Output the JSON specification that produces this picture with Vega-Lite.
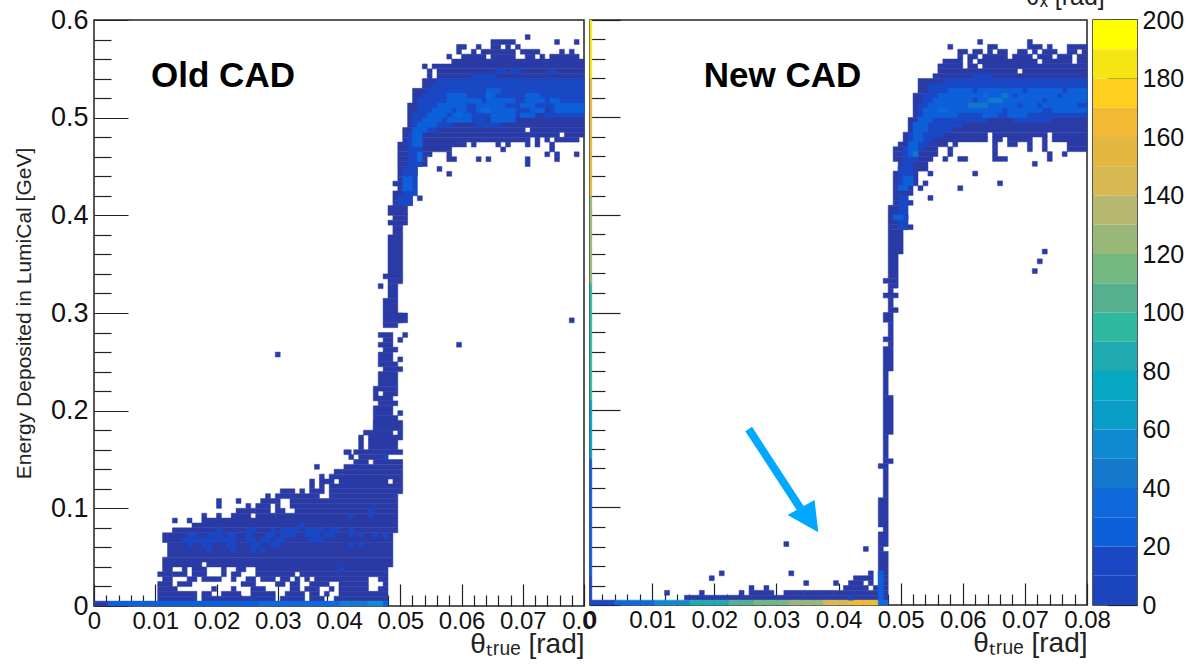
{"$schema":"https://vega.github.io/schema/vega-lite/v6.json","background":"white","padding":{"left":12,"top":-16,"right":0,"bottom":0},"spacing":6,"bounds":"flush",
"config":{"font":"Liberation Sans","view":{"stroke":"#222222","strokeWidth":1.5},"axis":{"grid":false,"domain":false,"tickColor":"#222222","tickWidth":1.2,"labelColor":"#111111","titleColor":"#222222","titleFontWeight":"normal","labelFont":"Liberation Sans","titleFont":"Liberation Sans"}},
"datasets":{
"bands":[{"x":0,"X":1,"y":0,"Y":10,"v":5},{"x":0,"X":1,"y":10,"Y":20,"v":15},{"x":0,"X":1,"y":20,"Y":30,"v":25},{"x":0,"X":1,"y":30,"Y":40,"v":35},{"x":0,"X":1,"y":40,"Y":50,"v":45},{"x":0,"X":1,"y":50,"Y":60,"v":55},{"x":0,"X":1,"y":60,"Y":70,"v":65},{"x":0,"X":1,"y":70,"Y":80,"v":75},{"x":0,"X":1,"y":80,"Y":90,"v":85},{"x":0,"X":1,"y":90,"Y":100,"v":95},{"x":0,"X":1,"y":100,"Y":110,"v":105},{"x":0,"X":1,"y":110,"Y":120,"v":115},{"x":0,"X":1,"y":120,"Y":130,"v":125},{"x":0,"X":1,"y":130,"Y":140,"v":135},{"x":0,"X":1,"y":140,"Y":150,"v":145},{"x":0,"X":1,"y":150,"Y":160,"v":155},{"x":0,"X":1,"y":160,"Y":170,"v":165},{"x":0,"X":1,"y":170,"Y":180,"v":175},{"x":0,"X":1,"y":180,"Y":190,"v":185},{"x":0,"X":1,"y":190,"Y":200,"v":195}],
"old":[
{"x":0.0704,"X":0.0712,"y":0.58,"Y":0.585,"v":2},{"x":0.0648,"X":0.0688,"y":0.575,"Y":0.58,"v":2},{"x":0.0752,"X":0.076,"y":0.575,"Y":0.58,"v":2},{"x":0.0784,"X":0.0792,"y":0.575,"Y":0.58,"v":2},
{"x":0.0592,"X":0.0608,"y":0.57,"Y":0.575,"v":2},{"x":0.0624,"X":0.0632,"y":0.57,"Y":0.575,"v":2},{"x":0.0648,"X":0.0664,"y":0.57,"Y":0.575,"v":2},{"x":0.0672,"X":0.068,"y":0.57,"Y":0.575,"v":2},{"x":0.0688,"X":0.0696,"y":0.57,"Y":0.575,"v":2},
{"x":0.0592,"X":0.06,"y":0.565,"Y":0.57,"v":2},{"x":0.0616,"X":0.0624,"y":0.565,"Y":0.57,"v":2},{"x":0.0632,"X":0.0688,"y":0.565,"Y":0.57,"v":2},{"x":0.0696,"X":0.0728,"y":0.565,"Y":0.57,"v":2},{"x":0.076,"X":0.0768,"y":0.565,"Y":0.57,"v":2},{"x":0.0776,"X":0.0784,"y":0.565,"Y":0.57,"v":2},
{"x":0.0576,"X":0.0584,"y":0.56,"Y":0.565,"v":2},{"x":0.06,"X":0.064,"y":0.56,"Y":0.565,"v":2},{"x":0.0648,"X":0.0688,"y":0.56,"Y":0.565,"v":2},{"x":0.0704,"X":0.072,"y":0.56,"Y":0.565,"v":2},{"x":0.0728,"X":0.0736,"y":0.56,"Y":0.565,"v":2},{"x":0.0744,"X":0.0792,"y":0.56,"Y":0.565,"v":2},
{"x":0.0584,"X":0.08,"y":0.555,"Y":0.56,"v":2},{"x":0.0536,"X":0.0544,"y":0.55,"Y":0.555,"v":2},{"x":0.0552,"X":0.08,"y":0.55,"Y":0.555,"v":2},{"x":0.0544,"X":0.0552,"y":0.545,"Y":0.55,"v":2},{"x":0.056,"X":0.08,"y":0.545,"Y":0.55,"v":2},{"x":0.0544,"X":0.0552,"y":0.54,"Y":0.545,"v":2},{"x":0.056,"X":0.08,"y":0.54,"Y":0.545,"v":2},
{"x":0.0536,"X":0.08,"y":0.53,"Y":0.54,"v":2},{"x":0.052,"X":0.08,"y":0.515,"Y":0.53,"v":2},{"x":0.0512,"X":0.08,"y":0.49,"Y":0.515,"v":2},
{"x":0.0504,"X":0.0704,"y":0.485,"Y":0.49,"v":2},{"x":0.0712,"X":0.08,"y":0.485,"Y":0.49,"v":2},{"x":0.0504,"X":0.076,"y":0.48,"Y":0.485,"v":2},{"x":0.0768,"X":0.08,"y":0.48,"Y":0.485,"v":2},
{"x":0.0504,"X":0.0704,"y":0.475,"Y":0.48,"v":2},{"x":0.0704,"X":0.0712,"y":0.475,"Y":0.48,"v":2},{"x":0.072,"X":0.0728,"y":0.475,"Y":0.48,"v":2},{"x":0.0736,"X":0.0744,"y":0.475,"Y":0.48,"v":2},{"x":0.0752,"X":0.0792,"y":0.475,"Y":0.48,"v":2},
{"x":0.0496,"X":0.06,"y":0.47,"Y":0.475,"v":2},{"x":0.06,"X":0.0608,"y":0.47,"Y":0.475,"v":2},{"x":0.0616,"X":0.0624,"y":0.47,"Y":0.475,"v":2},{"x":0.0656,"X":0.0664,"y":0.47,"Y":0.475,"v":2},{"x":0.0672,"X":0.068,"y":0.47,"Y":0.475,"v":2},{"x":0.0704,"X":0.0712,"y":0.47,"Y":0.475,"v":2},{"x":0.072,"X":0.0728,"y":0.47,"Y":0.475,"v":2},{"x":0.0744,"X":0.0752,"y":0.47,"Y":0.475,"v":2},
{"x":0.0496,"X":0.0584,"y":0.465,"Y":0.47,"v":2},{"x":0.0664,"X":0.0672,"y":0.465,"Y":0.47,"v":2},{"x":0.0744,"X":0.0752,"y":0.465,"Y":0.47,"v":2},
{"x":0.0496,"X":0.0552,"y":0.46,"Y":0.465,"v":2},{"x":0.0576,"X":0.0584,"y":0.46,"Y":0.465,"v":2},{"x":0.0736,"X":0.0744,"y":0.46,"Y":0.465,"v":2},{"x":0.0752,"X":0.076,"y":0.46,"Y":0.465,"v":2},{"x":0.0784,"X":0.0792,"y":0.46,"Y":0.465,"v":2},
{"x":0.0496,"X":0.0544,"y":0.455,"Y":0.46,"v":2},{"x":0.0576,"X":0.0592,"y":0.455,"Y":0.46,"v":2},{"x":0.0624,"X":0.0632,"y":0.455,"Y":0.46,"v":2},{"x":0.064,"X":0.0648,"y":0.455,"Y":0.46,"v":2},{"x":0.0752,"X":0.076,"y":0.455,"Y":0.46,"v":2},
{"x":0.0496,"X":0.0544,"y":0.45,"Y":0.455,"v":2},{"x":0.0704,"X":0.0712,"y":0.45,"Y":0.46,"v":2},{"x":0.0496,"X":0.0528,"y":0.44,"Y":0.45,"v":2},{"x":0.056,"X":0.0568,"y":0.445,"Y":0.45,"v":2},{"x":0.0576,"X":0.0584,"y":0.44,"Y":0.445,"v":2},
{"x":0.0496,"X":0.052,"y":0.435,"Y":0.44,"v":2},{"x":0.0488,"X":0.052,"y":0.43,"Y":0.435,"v":2},{"x":0.0496,"X":0.052,"y":0.425,"Y":0.43,"v":2},{"x":0.0488,"X":0.052,"y":0.415,"Y":0.425,"v":2},{"x":0.0528,"X":0.0536,"y":0.415,"Y":0.42,"v":2},
{"x":0.0488,"X":0.052,"y":0.41,"Y":0.415,"v":2},{"x":0.048,"X":0.0512,"y":0.4,"Y":0.41,"v":2},{"x":0.0488,"X":0.0512,"y":0.395,"Y":0.4,"v":2},{"x":0.048,"X":0.0512,"y":0.39,"Y":0.395,"v":2},
{"x":0.0488,"X":0.0504,"y":0.38,"Y":0.39,"v":2},{"x":0.048,"X":0.0504,"y":0.34,"Y":0.38,"v":2},{"x":0.0472,"X":0.0504,"y":0.335,"Y":0.34,"v":2},{"x":0.048,"X":0.0504,"y":0.33,"Y":0.335,"v":2},
{"x":0.0464,"X":0.0472,"y":0.325,"Y":0.33,"v":2},{"x":0.048,"X":0.0496,"y":0.315,"Y":0.33,"v":2},{"x":0.0472,"X":0.0496,"y":0.3,"Y":0.315,"v":2},{"x":0.0472,"X":0.0504,"y":0.29,"Y":0.3,"v":2},{"x":0.0472,"X":0.0496,"y":0.285,"Y":0.29,"v":2},
{"x":0.0464,"X":0.0488,"y":0.275,"Y":0.28,"v":2},{"x":0.0504,"X":0.0512,"y":0.275,"Y":0.28,"v":2},{"x":0.0472,"X":0.0488,"y":0.27,"Y":0.275,"v":2},{"x":0.0496,"X":0.0504,"y":0.27,"Y":0.275,"v":2},{"x":0.0464,"X":0.0488,"y":0.265,"Y":0.27,"v":2},
{"x":0.0472,"X":0.0496,"y":0.26,"Y":0.265,"v":2},{"x":0.0464,"X":0.0488,"y":0.25,"Y":0.26,"v":2},{"x":0.0496,"X":0.0504,"y":0.25,"Y":0.255,"v":2},{"x":0.0464,"X":0.0496,"y":0.245,"Y":0.25,"v":2},{"x":0.0472,"X":0.0504,"y":0.24,"Y":0.245,"v":2},
{"x":0.0464,"X":0.0496,"y":0.225,"Y":0.24,"v":2},{"x":0.0456,"X":0.0496,"y":0.22,"Y":0.225,"v":2},{"x":0.0456,"X":0.0464,"y":0.215,"Y":0.22,"v":2},{"x":0.0472,"X":0.0496,"y":0.215,"Y":0.22,"v":2},{"x":0.0456,"X":0.0488,"y":0.21,"Y":0.215,"v":2},{"x":0.0464,"X":0.0496,"y":0.205,"Y":0.21,"v":2},
{"x":0.0456,"X":0.0488,"y":0.195,"Y":0.205,"v":2},{"x":0.0496,"X":0.0504,"y":0.195,"Y":0.2,"v":2},{"x":0.0456,"X":0.0496,"y":0.18,"Y":0.195,"v":2},{"x":0.044,"X":0.0488,"y":0.175,"Y":0.18,"v":2},{"x":0.0496,"X":0.0504,"y":0.175,"Y":0.18,"v":2},
{"x":0.0432,"X":0.044,"y":0.17,"Y":0.175,"v":2},{"x":0.0448,"X":0.0504,"y":0.17,"Y":0.175,"v":2},{"x":0.0456,"X":0.0504,"y":0.18,"Y":0.19,"v":2},
{"x":0.0432,"X":0.044,"y":0.16,"Y":0.17,"v":2},{"x":0.0448,"X":0.0496,"y":0.16,"Y":0.17,"v":2},{"x":0.0408,"X":0.042,"y":0.155,"Y":0.16,"v":2},{"x":0.0424,"X":0.0504,"y":0.155,"Y":0.16,"v":2},{"x":0.0416,"X":0.0424,"y":0.15,"Y":0.155,"v":2},{"x":0.0432,"X":0.048,"y":0.15,"Y":0.155,"v":2},{"x":0.0424,"X":0.0448,"y":0.145,"Y":0.15,"v":2},{"x":0.0456,"X":0.0504,"y":0.145,"Y":0.15,"v":2},
{"x":0.036,"X":0.0368,"y":0.14,"Y":0.145,"v":2},{"x":0.0408,"X":0.0504,"y":0.14,"Y":0.145,"v":2},{"x":0.0392,"X":0.0504,"y":0.135,"Y":0.14,"v":2},{"x":0.0368,"X":0.0376,"y":0.13,"Y":0.135,"v":2},{"x":0.0384,"X":0.0504,"y":0.13,"Y":0.135,"v":2},
{"x":0.0352,"X":0.036,"y":0.125,"Y":0.13,"v":2},{"x":0.0368,"X":0.0392,"y":0.125,"Y":0.13,"v":2},{"x":0.04,"X":0.048,"y":0.125,"Y":0.13,"v":2},{"x":0.0488,"X":0.0504,"y":0.125,"Y":0.13,"v":2},
{"x":0.0352,"X":0.036,"y":0.12,"Y":0.125,"v":2},{"x":0.0368,"X":0.0376,"y":0.12,"Y":0.125,"v":2},{"x":0.0384,"X":0.0504,"y":0.12,"Y":0.125,"v":2},
{"x":0.0304,"X":0.0328,"y":0.115,"Y":0.12,"v":2},{"x":0.0336,"X":0.0344,"y":0.115,"Y":0.12,"v":2},{"x":0.0352,"X":0.0376,"y":0.115,"Y":0.12,"v":2},{"x":0.0384,"X":0.0504,"y":0.115,"Y":0.12,"v":2},
{"x":0.028,"X":0.0288,"y":0.11,"Y":0.115,"v":2},{"x":0.0296,"X":0.0368,"y":0.11,"Y":0.115,"v":2},{"x":0.0384,"X":0.0496,"y":0.11,"Y":0.115,"v":2},
{"x":0.02,"X":0.0208,"y":0.105,"Y":0.11,"v":2},{"x":0.0232,"X":0.024,"y":0.105,"Y":0.11,"v":2},{"x":0.0272,"X":0.0296,"y":0.105,"Y":0.11,"v":2},{"x":0.0296,"X":0.0304,"y":0.105,"Y":0.11,"v":2},{"x":0.032,"X":0.0496,"y":0.105,"Y":0.11,"v":2},
{"x":0.02,"X":0.0208,"y":0.1,"Y":0.105,"v":2},{"x":0.0248,"X":0.0256,"y":0.1,"Y":0.105,"v":2},{"x":0.0264,"X":0.0288,"y":0.1,"Y":0.105,"v":2},{"x":0.0296,"X":0.0304,"y":0.1,"Y":0.105,"v":2},{"x":0.032,"X":0.0496,"y":0.1,"Y":0.105,"v":2},
{"x":0.0232,"X":0.0264,"y":0.095,"Y":0.1,"v":2},{"x":0.0264,"X":0.0288,"y":0.095,"Y":0.1,"v":2},{"x":0.0296,"X":0.0312,"y":0.095,"Y":0.1,"v":2},{"x":0.0328,"X":0.0496,"y":0.095,"Y":0.1,"v":2},
{"x":0.0176,"X":0.0184,"y":0.09,"Y":0.095,"v":2},{"x":0.02,"X":0.0208,"y":0.09,"Y":0.095,"v":2},{"x":0.0224,"X":0.0256,"y":0.09,"Y":0.095,"v":2},{"x":0.0264,"X":0.0296,"y":0.09,"Y":0.095,"v":2},{"x":0.0296,"X":0.0496,"y":0.09,"Y":0.095,"v":2},
{"x":0.0128,"X":0.0136,"y":0.085,"Y":0.09,"v":2},{"x":0.0152,"X":0.016,"y":0.085,"Y":0.09,"v":2},{"x":0.0176,"X":0.0496,"y":0.085,"Y":0.09,"v":2},
{"x":0.016,"X":0.0496,"y":0.08,"Y":0.085,"v":2},{"x":0.0128,"X":0.0496,"y":0.075,"Y":0.08,"v":2},{"x":0.0112,"X":0.0488,"y":0.065,"Y":0.075,"v":2},{"x":0.012,"X":0.0488,"y":0.05,"Y":0.065,"v":2},{"x":0.0112,"X":0.0488,"y":0.045,"Y":0.05,"v":2},
{"x":0.0112,"X":0.0176,"y":0.04,"Y":0.045,"v":2},{"x":0.0184,"X":0.0488,"y":0.04,"Y":0.045,"v":2},
{"x":0.0112,"X":0.0128,"y":0.035,"Y":0.04,"v":2},{"x":0.0144,"X":0.0152,"y":0.035,"Y":0.04,"v":2},{"x":0.016,"X":0.0184,"y":0.035,"Y":0.04,"v":2},{"x":0.0208,"X":0.0216,"y":0.035,"Y":0.04,"v":2},{"x":0.0232,"X":0.0248,"y":0.035,"Y":0.04,"v":2},{"x":0.0264,"X":0.048,"y":0.035,"Y":0.04,"v":2},
{"x":0.0104,"X":0.0128,"y":0.03,"Y":0.035,"v":2},{"x":0.0128,"X":0.0152,"y":0.03,"Y":0.035,"v":2},{"x":0.016,"X":0.0184,"y":0.03,"Y":0.035,"v":2},{"x":0.0208,"X":0.0216,"y":0.03,"Y":0.035,"v":2},{"x":0.0224,"X":0.024,"y":0.03,"Y":0.035,"v":2},{"x":0.0264,"X":0.0328,"y":0.03,"Y":0.035,"v":2},{"x":0.0336,"X":0.048,"y":0.03,"Y":0.035,"v":2},
{"x":0.0112,"X":0.0128,"y":0.025,"Y":0.03,"v":2},{"x":0.0152,"X":0.0168,"y":0.025,"Y":0.03,"v":2},{"x":0.0176,"X":0.0208,"y":0.025,"Y":0.03,"v":2},{"x":0.0224,"X":0.0232,"y":0.025,"Y":0.03,"v":2},{"x":0.0248,"X":0.0264,"y":0.025,"Y":0.03,"v":2},{"x":0.0272,"X":0.0296,"y":0.025,"Y":0.03,"v":2},{"x":0.0304,"X":0.032,"y":0.025,"Y":0.03,"v":2},{"x":0.0328,"X":0.0336,"y":0.025,"Y":0.03,"v":2},{"x":0.0344,"X":0.0352,"y":0.025,"Y":0.03,"v":2},{"x":0.036,"X":0.0448,"y":0.025,"Y":0.03,"v":2},{"x":0.0464,"X":0.048,"y":0.025,"Y":0.03,"v":2},
{"x":0.0104,"X":0.0128,"y":0.02,"Y":0.025,"v":2},{"x":0.0136,"X":0.016,"y":0.02,"Y":0.025,"v":2},{"x":0.024,"X":0.0264,"y":0.02,"Y":0.025,"v":2},{"x":0.0296,"X":0.0312,"y":0.02,"Y":0.025,"v":2},{"x":0.032,"X":0.0336,"y":0.02,"Y":0.025,"v":2},{"x":0.0352,"X":0.0384,"y":0.02,"Y":0.025,"v":2},{"x":0.04,"X":0.0448,"y":0.02,"Y":0.025,"v":2},{"x":0.0472,"X":0.048,"y":0.02,"Y":0.025,"v":2},
{"x":0.0104,"X":0.0136,"y":0.015,"Y":0.02,"v":2},{"x":0.0192,"X":0.02,"y":0.015,"Y":0.02,"v":2},{"x":0.0224,"X":0.0232,"y":0.015,"Y":0.02,"v":2},{"x":0.0256,"X":0.028,"y":0.015,"Y":0.02,"v":2},{"x":0.032,"X":0.0336,"y":0.015,"Y":0.02,"v":2},{"x":0.0344,"X":0.0368,"y":0.015,"Y":0.02,"v":2},{"x":0.0384,"X":0.0392,"y":0.015,"Y":0.02,"v":2},{"x":0.04,"X":0.0448,"y":0.015,"Y":0.02,"v":2},{"x":0.0464,"X":0.048,"y":0.015,"Y":0.02,"v":2},
{"x":0.0104,"X":0.0168,"y":0.01,"Y":0.015,"v":2},{"x":0.0176,"X":0.0192,"y":0.01,"Y":0.015,"v":2},{"x":0.0208,"X":0.024,"y":0.01,"Y":0.015,"v":2},{"x":0.0256,"X":0.0296,"y":0.01,"Y":0.015,"v":2},{"x":0.0312,"X":0.0344,"y":0.01,"Y":0.015,"v":2},{"x":0.0352,"X":0.0368,"y":0.01,"Y":0.015,"v":2},{"x":0.0376,"X":0.0384,"y":0.01,"Y":0.015,"v":2},{"x":0.04,"X":0.048,"y":0.01,"Y":0.015,"v":2},
{"x":0.0104,"X":0.0168,"y":0.005,"Y":0.01,"v":2},{"x":0.0176,"X":0.0256,"y":0.005,"Y":0.01,"v":2},{"x":0.0256,"X":0.0296,"y":0.005,"Y":0.01,"v":2},{"x":0.0304,"X":0.0344,"y":0.005,"Y":0.01,"v":2},{"x":0.0352,"X":0.0376,"y":0.005,"Y":0.01,"v":2},{"x":0.0392,"X":0.048,"y":0.005,"Y":0.01,"v":2},
{"x":0,"X":0.0024,"y":0,"Y":0.005,"v":2},{"x":0.0024,"X":0.0272,"y":0,"Y":0.005,"v":25},{"x":0.0272,"X":0.04,"y":0,"Y":0.005,"v":35},{"x":0.04,"X":0.0448,"y":0,"Y":0.005,"v":45},{"x":0.0448,"X":0.0472,"y":0,"Y":0.005,"v":55},{"x":0.0472,"X":0.048,"y":0,"Y":0.005,"v":25},
{"x":0.0296,"X":0.0304,"y":0.255,"Y":0.26,"v":2},{"x":0.0592,"X":0.06,"y":0.265,"Y":0.27,"v":2},{"x":0.0776,"X":0.0784,"y":0.29,"Y":0.295,"v":2},
{"x":0.0496,"X":0.0512,"y":0.29,"Y":0.3,"v":2},
{"x":0.0448,"X":0.0456,"y":0.09,"Y":0.1,"v":15},{"x":0.0416,"X":0.0424,"y":0.09,"Y":0.095,"v":15},{"x":0.0416,"X":0.0424,"y":0.07,"Y":0.08,"v":15},{"x":0.0416,"X":0.0424,"y":0.06,"Y":0.065,"v":15},{"x":0.0432,"X":0.044,"y":0.06,"Y":0.065,"v":15},{"x":0.0432,"X":0.044,"y":0.07,"Y":0.075,"v":15},{"x":0.0456,"X":0.0464,"y":0.07,"Y":0.075,"v":15},{"x":0.0472,"X":0.048,"y":0.07,"Y":0.075,"v":15},{"x":0.04,"X":0.0408,"y":0.035,"Y":0.04,"v":15},{"x":0.0472,"X":0.048,"y":0.15,"Y":0.155,"v":15},
{"x":0.02,"X":0.0208,"y":0.075,"Y":0.08,"v":15},{"x":0.0248,"X":0.0264,"y":0.075,"Y":0.08,"v":15},{"x":0.0288,"X":0.0296,"y":0.075,"Y":0.08,"v":15},{"x":0.0304,"X":0.0336,"y":0.075,"Y":0.08,"v":15},{"x":0.0344,"X":0.0376,"y":0.075,"Y":0.08,"v":15},{"x":0.0384,"X":0.04,"y":0.075,"Y":0.08,"v":15},{"x":0.0336,"X":0.0344,"y":0.08,"Y":0.085,"v":15},
{"x":0.0152,"X":0.0168,"y":0.07,"Y":0.075,"v":15},{"x":0.0184,"X":0.0208,"y":0.07,"Y":0.075,"v":15},{"x":0.0216,"X":0.0232,"y":0.07,"Y":0.075,"v":15},{"x":0.0248,"X":0.0256,"y":0.07,"Y":0.075,"v":15},{"x":0.028,"X":0.0296,"y":0.07,"Y":0.075,"v":15},{"x":0.0304,"X":0.0328,"y":0.07,"Y":0.075,"v":15},{"x":0.0344,"X":0.0368,"y":0.07,"Y":0.075,"v":15},{"x":0.0376,"X":0.0392,"y":0.07,"Y":0.075,"v":15},
{"x":0.0144,"X":0.0192,"y":0.065,"Y":0.07,"v":15},{"x":0.0192,"X":0.0232,"y":0.065,"Y":0.07,"v":15},{"x":0.0248,"X":0.0264,"y":0.065,"Y":0.07,"v":15},{"x":0.0272,"X":0.0288,"y":0.065,"Y":0.07,"v":15},{"x":0.0296,"X":0.0312,"y":0.065,"Y":0.07,"v":15},{"x":0.0352,"X":0.0376,"y":0.065,"Y":0.07,"v":15},
{"x":0.0152,"X":0.016,"y":0.06,"Y":0.065,"v":15},{"x":0.0176,"X":0.0192,"y":0.06,"Y":0.065,"v":15},{"x":0.0216,"X":0.0232,"y":0.06,"Y":0.065,"v":15},{"x":0.0256,"X":0.0272,"y":0.06,"Y":0.065,"v":15},{"x":0.0288,"X":0.0304,"y":0.06,"Y":0.065,"v":15},{"x":0.0184,"X":0.0192,"y":0.055,"Y":0.06,"v":15},{"x":0.0224,"X":0.0232,"y":0.055,"Y":0.06,"v":15},{"x":0.0256,"X":0.0264,"y":0.055,"Y":0.06,"v":15},{"x":0.0272,"X":0.028,"y":0.055,"Y":0.06,"v":15},
{"x":0.0616,"X":0.0656,"y":0.54,"Y":0.545,"v":15},{"x":0.0656,"X":0.0672,"y":0.545,"Y":0.55,"v":15},{"x":0.068,"X":0.0696,"y":0.545,"Y":0.55,"v":15},{"x":0.0744,"X":0.0752,"y":0.545,"Y":0.55,"v":15},
{"x":0.056,"X":0.08,"y":0.535,"Y":0.54,"v":15},{"x":0.0552,"X":0.08,"y":0.53,"Y":0.535,"v":15},{"x":0.0544,"X":0.08,"y":0.525,"Y":0.53,"v":15},{"x":0.0536,"X":0.08,"y":0.52,"Y":0.525,"v":15},{"x":0.0528,"X":0.08,"y":0.51,"Y":0.52,"v":15},{"x":0.0528,"X":0.0736,"y":0.505,"Y":0.51,"v":15},{"x":0.0744,"X":0.08,"y":0.505,"Y":0.51,"v":15},{"x":0.052,"X":0.072,"y":0.5,"Y":0.505,"v":15},{"x":0.0736,"X":0.08,"y":0.5,"Y":0.505,"v":15},{"x":0.052,"X":0.064,"y":0.495,"Y":0.5,"v":15},{"x":0.052,"X":0.0584,"y":0.49,"Y":0.495,"v":15},{"x":0.0624,"X":0.0664,"y":0.49,"Y":0.495,"v":15},{"x":0.052,"X":0.056,"y":0.485,"Y":0.49,"v":15},{"x":0.0512,"X":0.0536,"y":0.45,"Y":0.485,"v":15},{"x":0.0504,"X":0.0528,"y":0.42,"Y":0.45,"v":15},{"x":0.0496,"X":0.052,"y":0.41,"Y":0.42,"v":15},
{"x":0.064,"X":0.0664,"y":0.525,"Y":0.53,"v":25},{"x":0.0576,"X":0.0608,"y":0.52,"Y":0.525,"v":25},{"x":0.064,"X":0.0656,"y":0.52,"Y":0.525,"v":25},{"x":0.0704,"X":0.0728,"y":0.52,"Y":0.525,"v":25},{"x":0.0576,"X":0.0632,"y":0.515,"Y":0.52,"v":25},{"x":0.064,"X":0.0688,"y":0.515,"Y":0.52,"v":25},{"x":0.0704,"X":0.0736,"y":0.515,"Y":0.52,"v":25},{"x":0.0744,"X":0.076,"y":0.515,"Y":0.52,"v":25},
{"x":0.056,"X":0.0608,"y":0.51,"Y":0.515,"v":25},{"x":0.0624,"X":0.0672,"y":0.51,"Y":0.515,"v":25},{"x":0.0696,"X":0.072,"y":0.51,"Y":0.515,"v":25},{"x":0.0752,"X":0.08,"y":0.51,"Y":0.515,"v":25},{"x":0.0552,"X":0.0584,"y":0.505,"Y":0.51,"v":25},{"x":0.0592,"X":0.0608,"y":0.505,"Y":0.51,"v":25},{"x":0.0624,"X":0.0688,"y":0.505,"Y":0.51,"v":25},{"x":0.0712,"X":0.0736,"y":0.505,"Y":0.51,"v":25},{"x":0.0752,"X":0.08,"y":0.505,"Y":0.51,"v":25},
{"x":0.0544,"X":0.0576,"y":0.5,"Y":0.505,"v":25},{"x":0.0584,"X":0.0616,"y":0.5,"Y":0.505,"v":25},{"x":0.0648,"X":0.0688,"y":0.5,"Y":0.505,"v":25},{"x":0.0696,"X":0.072,"y":0.5,"Y":0.505,"v":25},{"x":0.0536,"X":0.0568,"y":0.495,"Y":0.5,"v":25},{"x":0.0576,"X":0.0616,"y":0.495,"Y":0.5,"v":25},{"x":0.0648,"X":0.0688,"y":0.495,"Y":0.5,"v":25},{"x":0.0528,"X":0.056,"y":0.49,"Y":0.495,"v":25},{"x":0.052,"X":0.0544,"y":0.485,"Y":0.49,"v":25},{"x":0.052,"X":0.0536,"y":0.47,"Y":0.485,"v":25},{"x":0.0504,"X":0.052,"y":0.425,"Y":0.44,"v":25},
{"x":0.064,"X":0.0648,"y":0.52,"Y":0.525,"v":35},{"x":0.0632,"X":0.0648,"y":0.505,"Y":0.51,"v":35},{"x":0.0592,"X":0.06,"y":0.5,"Y":0.505,"v":35},{"x":0.0528,"X":0.0536,"y":0.455,"Y":0.465,"v":35}
],
"new":[
{"x":0,"X":0.0003,"y":0,"Y":0.03,"v":15},{"x":0,"X":0.0003,"y":0.03,"Y":0.15,"v":25},{"x":0,"X":0.0003,"y":0.15,"Y":0.21,"v":65},{"x":0,"X":0.0003,"y":0.21,"Y":0.33,"v":95},{"x":0,"X":0.0003,"y":0.33,"Y":0.42,"v":125},{"x":0,"X":0.0003,"y":0.42,"Y":0.54,"v":155},{"x":0,"X":0.0003,"y":0.54,"Y":0.6,"v":185},
{"x":0.0624,"X":0.0632,"y":0.575,"Y":0.58,"v":2},{"x":0.0704,"X":0.0712,"y":0.575,"Y":0.58,"v":2},
{"x":0.0576,"X":0.0584,"y":0.57,"Y":0.575,"v":2},{"x":0.064,"X":0.0656,"y":0.57,"Y":0.575,"v":2},{"x":0.0704,"X":0.0728,"y":0.57,"Y":0.575,"v":2},{"x":0.0736,"X":0.0744,"y":0.57,"Y":0.575,"v":2},{"x":0.0768,"X":0.08,"y":0.57,"Y":0.575,"v":2},
{"x":0.0592,"X":0.0608,"y":0.565,"Y":0.57,"v":2},{"x":0.0616,"X":0.0632,"y":0.565,"Y":0.57,"v":2},{"x":0.064,"X":0.0648,"y":0.565,"Y":0.57,"v":2},{"x":0.0656,"X":0.0672,"y":0.565,"Y":0.57,"v":2},{"x":0.0688,"X":0.0704,"y":0.565,"Y":0.57,"v":2},{"x":0.0712,"X":0.072,"y":0.565,"Y":0.57,"v":2},{"x":0.0728,"X":0.0752,"y":0.565,"Y":0.57,"v":2},{"x":0.0768,"X":0.0784,"y":0.565,"Y":0.57,"v":2},{"x":0.0792,"X":0.08,"y":0.565,"Y":0.57,"v":2},
{"x":0.0592,"X":0.06,"y":0.56,"Y":0.565,"v":2},{"x":0.0608,"X":0.0624,"y":0.56,"Y":0.565,"v":2},{"x":0.0632,"X":0.0672,"y":0.56,"Y":0.565,"v":2},{"x":0.068,"X":0.0712,"y":0.56,"Y":0.565,"v":2},{"x":0.072,"X":0.0744,"y":0.56,"Y":0.565,"v":2},{"x":0.0752,"X":0.0776,"y":0.56,"Y":0.565,"v":2},{"x":0.0784,"X":0.08,"y":0.56,"Y":0.565,"v":2},
{"x":0.0568,"X":0.06,"y":0.555,"Y":0.56,"v":2},{"x":0.0608,"X":0.0616,"y":0.555,"Y":0.56,"v":2},{"x":0.0624,"X":0.072,"y":0.555,"Y":0.56,"v":2},{"x":0.0728,"X":0.0776,"y":0.555,"Y":0.56,"v":2},{"x":0.0784,"X":0.08,"y":0.555,"Y":0.56,"v":2},
{"x":0.056,"X":0.06,"y":0.55,"Y":0.555,"v":2},{"x":0.0608,"X":0.0624,"y":0.55,"Y":0.555,"v":2},{"x":0.0632,"X":0.08,"y":0.55,"Y":0.555,"v":2},{"x":0.056,"X":0.0688,"y":0.545,"Y":0.55,"v":2},{"x":0.0696,"X":0.08,"y":0.545,"Y":0.55,"v":2},
{"x":0.0552,"X":0.08,"y":0.54,"Y":0.545,"v":2},{"x":0.0528,"X":0.08,"y":0.525,"Y":0.54,"v":2},{"x":0.052,"X":0.08,"y":0.5,"Y":0.525,"v":2},{"x":0.0512,"X":0.08,"y":0.485,"Y":0.5,"v":2},
{"x":0.0504,"X":0.064,"y":0.48,"Y":0.485,"v":2},{"x":0.0648,"X":0.0736,"y":0.48,"Y":0.485,"v":2},{"x":0.0744,"X":0.08,"y":0.48,"Y":0.485,"v":2},
{"x":0.0504,"X":0.064,"y":0.475,"Y":0.48,"v":2},{"x":0.0648,"X":0.0664,"y":0.475,"Y":0.48,"v":2},{"x":0.0672,"X":0.0712,"y":0.475,"Y":0.48,"v":2},{"x":0.0728,"X":0.0736,"y":0.475,"Y":0.48,"v":2},{"x":0.0744,"X":0.08,"y":0.475,"Y":0.48,"v":2},
{"x":0.0496,"X":0.0576,"y":0.47,"Y":0.475,"v":2},{"x":0.0584,"X":0.0592,"y":0.47,"Y":0.475,"v":2},{"x":0.0648,"X":0.0656,"y":0.47,"Y":0.475,"v":2},{"x":0.0672,"X":0.0688,"y":0.47,"Y":0.475,"v":2},{"x":0.0704,"X":0.0712,"y":0.47,"Y":0.475,"v":2},{"x":0.0728,"X":0.0736,"y":0.47,"Y":0.475,"v":2},{"x":0.0768,"X":0.08,"y":0.47,"Y":0.475,"v":2},
{"x":0.0488,"X":0.056,"y":0.465,"Y":0.47,"v":2},{"x":0.0576,"X":0.0584,"y":0.465,"Y":0.47,"v":2},{"x":0.0648,"X":0.0656,"y":0.465,"Y":0.47,"v":2},{"x":0.0704,"X":0.0712,"y":0.465,"Y":0.47,"v":2},{"x":0.0728,"X":0.0736,"y":0.465,"Y":0.47,"v":2},{"x":0.0768,"X":0.08,"y":0.465,"Y":0.47,"v":2},
{"x":0.0488,"X":0.056,"y":0.46,"Y":0.465,"v":2},{"x":0.0576,"X":0.0584,"y":0.46,"Y":0.465,"v":2},{"x":0.0648,"X":0.0656,"y":0.46,"Y":0.465,"v":2},{"x":0.0736,"X":0.0744,"y":0.46,"Y":0.465,"v":2},{"x":0.076,"X":0.0768,"y":0.46,"Y":0.465,"v":2},
{"x":0.0488,"X":0.0552,"y":0.455,"Y":0.46,"v":2},{"x":0.0568,"X":0.0576,"y":0.455,"Y":0.46,"v":2},{"x":0.0592,"X":0.0608,"y":0.455,"Y":0.46,"v":2},{"x":0.0648,"X":0.0672,"y":0.455,"Y":0.46,"v":2},{"x":0.0736,"X":0.0744,"y":0.455,"Y":0.46,"v":2},
{"x":0.0496,"X":0.0544,"y":0.445,"Y":0.455,"v":2},{"x":0.0712,"X":0.072,"y":0.45,"Y":0.455,"v":2},{"x":0.0488,"X":0.0528,"y":0.435,"Y":0.445,"v":2},{"x":0.0544,"X":0.0552,"y":0.44,"Y":0.445,"v":2},{"x":0.0616,"X":0.0624,"y":0.44,"Y":0.445,"v":2},
{"x":0.0488,"X":0.0528,"y":0.43,"Y":0.435,"v":2},{"x":0.0536,"X":0.0544,"y":0.43,"Y":0.435,"v":2},{"x":0.0656,"X":0.0664,"y":0.43,"Y":0.435,"v":2},{"x":0.0488,"X":0.052,"y":0.425,"Y":0.43,"v":2},{"x":0.0528,"X":0.0536,"y":0.425,"Y":0.43,"v":2},{"x":0.0592,"X":0.06,"y":0.425,"Y":0.43,"v":2},
{"x":0.0488,"X":0.052,"y":0.42,"Y":0.425,"v":2},{"x":0.0488,"X":0.0512,"y":0.415,"Y":0.42,"v":2},{"x":0.0544,"X":0.0552,"y":0.415,"Y":0.42,"v":2},{"x":0.0488,"X":0.052,"y":0.41,"Y":0.415,"v":2},
{"x":0.048,"X":0.0504,"y":0.4,"Y":0.41,"v":2},{"x":0.048,"X":0.0512,"y":0.395,"Y":0.4,"v":2},{"x":0.048,"X":0.0504,"y":0.39,"Y":0.395,"v":2},{"x":0.048,"X":0.052,"y":0.385,"Y":0.39,"v":2},{"x":0.048,"X":0.0504,"y":0.36,"Y":0.385,"v":2},{"x":0.048,"X":0.0496,"y":0.335,"Y":0.36,"v":2},
{"x":0.0472,"X":0.0496,"y":0.33,"Y":0.335,"v":2},{"x":0.048,"X":0.0496,"y":0.325,"Y":0.33,"v":2},{"x":0.048,"X":0.0488,"y":0.32,"Y":0.325,"v":2},{"x":0.0472,"X":0.0496,"y":0.315,"Y":0.32,"v":2},{"x":0.048,"X":0.0488,"y":0.305,"Y":0.315,"v":2},{"x":0.048,"X":0.0496,"y":0.3,"Y":0.305,"v":2},{"x":0.0472,"X":0.0488,"y":0.29,"Y":0.3,"v":2},{"x":0.048,"X":0.0488,"y":0.275,"Y":0.29,"v":2},{"x":0.0472,"X":0.0488,"y":0.27,"Y":0.275,"v":2},{"x":0.048,"X":0.0488,"y":0.265,"Y":0.27,"v":2},
{"x":0.0472,"X":0.0488,"y":0.24,"Y":0.265,"v":2},{"x":0.0472,"X":0.048,"y":0.215,"Y":0.24,"v":2},{"x":0.0472,"X":0.0488,"y":0.175,"Y":0.215,"v":2},{"x":0.0472,"X":0.048,"y":0.15,"Y":0.175,"v":2},{"x":0.0472,"X":0.0488,"y":0.145,"Y":0.15,"v":2},{"x":0.0464,"X":0.048,"y":0.14,"Y":0.145,"v":2},{"x":0.0472,"X":0.048,"y":0.11,"Y":0.14,"v":2},{"x":0.0464,"X":0.048,"y":0.08,"Y":0.11,"v":2},{"x":0.0472,"X":0.048,"y":0.075,"Y":0.08,"v":2},{"x":0.0464,"X":0.048,"y":0.06,"Y":0.075,"v":2},{"x":0.0464,"X":0.0472,"y":0.055,"Y":0.06,"v":2},{"x":0.044,"X":0.0448,"y":0.055,"Y":0.06,"v":2},
{"x":0.0712,"X":0.072,"y":0.34,"Y":0.345,"v":2},{"x":0.072,"X":0.0728,"y":0.35,"Y":0.355,"v":2},{"x":0.0728,"X":0.0736,"y":0.36,"Y":0.365,"v":2},
{"x":0.0312,"X":0.032,"y":0.06,"Y":0.065,"v":2},{"x":0.0464,"X":0.048,"y":0.04,"Y":0.055,"v":2},
{"x":0.0208,"X":0.0216,"y":0.03,"Y":0.035,"v":2},{"x":0.032,"X":0.0328,"y":0.03,"Y":0.035,"v":2},{"x":0.0448,"X":0.0456,"y":0.03,"Y":0.035,"v":2},{"x":0.0464,"X":0.048,"y":0.03,"Y":0.04,"v":2},
{"x":0.0192,"X":0.02,"y":0.025,"Y":0.03,"v":2},{"x":0.0424,"X":0.0456,"y":0.025,"Y":0.03,"v":2},{"x":0.0464,"X":0.048,"y":0.025,"Y":0.03,"v":2},
{"x":0.0344,"X":0.0352,"y":0.02,"Y":0.025,"v":2},{"x":0.0392,"X":0.04,"y":0.02,"Y":0.025,"v":2},{"x":0.0416,"X":0.044,"y":0.02,"Y":0.025,"v":2},{"x":0.0448,"X":0.0456,"y":0.02,"Y":0.025,"v":2},{"x":0.0464,"X":0.048,"y":0.02,"Y":0.025,"v":2},
{"x":0.0256,"X":0.0264,"y":0.015,"Y":0.02,"v":2},{"x":0.028,"X":0.0288,"y":0.015,"Y":0.02,"v":2},{"x":0.0408,"X":0.0448,"y":0.015,"Y":0.02,"v":2},{"x":0.0456,"X":0.048,"y":0.015,"Y":0.02,"v":2},
{"x":0.012,"X":0.0128,"y":0.01,"Y":0.015,"v":2},{"x":0.0176,"X":0.0184,"y":0.01,"Y":0.015,"v":2},{"x":0.024,"X":0.0248,"y":0.01,"Y":0.015,"v":2},{"x":0.0256,"X":0.0296,"y":0.01,"Y":0.015,"v":2},{"x":0.0312,"X":0.0344,"y":0.01,"Y":0.015,"v":2},{"x":0.0344,"X":0.0368,"y":0.01,"Y":0.015,"v":2},{"x":0.0368,"X":0.0392,"y":0.01,"Y":0.015,"v":2},{"x":0.0392,"X":0.048,"y":0.01,"Y":0.015,"v":2},
{"x":0.0152,"X":0.048,"y":0.005,"Y":0.01,"v":2},
{"x":0,"X":0.004,"y":0,"Y":0.005,"v":15},{"x":0.004,"X":0.0104,"y":0,"Y":0.005,"v":35},{"x":0.0104,"X":0.016,"y":0,"Y":0.005,"v":55},{"x":0.016,"X":0.0224,"y":0,"Y":0.005,"v":85},{"x":0.0224,"X":0.0264,"y":0,"Y":0.005,"v":105},{"x":0.0264,"X":0.032,"y":0,"Y":0.005,"v":115},{"x":0.032,"X":0.0376,"y":0,"Y":0.005,"v":125},{"x":0.0376,"X":0.0416,"y":0,"Y":0.005,"v":145},{"x":0.0416,"X":0.0464,"y":0,"Y":0.005,"v":165},{"x":0.0464,"X":0.048,"y":0,"Y":0.005,"v":35},
{"x":0.0464,"X":0.0472,"y":0.005,"Y":0.035,"v":25},{"x":0.0416,"X":0.0424,"y":0.005,"Y":0.01,"v":15},
{"x":0.0616,"X":0.0648,"y":0.54,"Y":0.545,"v":15},{"x":0.0568,"X":0.08,"y":0.535,"Y":0.54,"v":15},{"x":0.0544,"X":0.08,"y":0.525,"Y":0.535,"v":15},{"x":0.0536,"X":0.08,"y":0.515,"Y":0.525,"v":15},{"x":0.0528,"X":0.08,"y":0.5,"Y":0.515,"v":15},{"x":0.0528,"X":0.064,"y":0.495,"Y":0.5,"v":15},{"x":0.068,"X":0.0744,"y":0.495,"Y":0.5,"v":15},{"x":0.052,"X":0.06,"y":0.49,"Y":0.495,"v":15},{"x":0.052,"X":0.0584,"y":0.485,"Y":0.49,"v":15},{"x":0.0512,"X":0.0568,"y":0.48,"Y":0.485,"v":15},{"x":0.0512,"X":0.0552,"y":0.475,"Y":0.48,"v":15},{"x":0.0512,"X":0.0544,"y":0.47,"Y":0.475,"v":15},{"x":0.0504,"X":0.0536,"y":0.465,"Y":0.47,"v":15},{"x":0.0504,"X":0.0528,"y":0.455,"Y":0.465,"v":15},{"x":0.0504,"X":0.052,"y":0.45,"Y":0.455,"v":15},{"x":0.0496,"X":0.052,"y":0.435,"Y":0.45,"v":15},{"x":0.0496,"X":0.0512,"y":0.425,"Y":0.435,"v":15},{"x":0.0496,"X":0.0512,"y":0.385,"Y":0.42,"v":15},{"x":0.0488,"X":0.0504,"y":0.395,"Y":0.4,"v":25},
{"x":0.0576,"X":0.0616,"y":0.525,"Y":0.53,"v":25},{"x":0.0624,"X":0.0696,"y":0.525,"Y":0.53,"v":25},{"x":0.0704,"X":0.076,"y":0.525,"Y":0.53,"v":25},{"x":0.0768,"X":0.08,"y":0.525,"Y":0.53,"v":25},{"x":0.056,"X":0.0632,"y":0.52,"Y":0.525,"v":25},{"x":0.064,"X":0.068,"y":0.52,"Y":0.525,"v":25},{"x":0.0688,"X":0.0752,"y":0.52,"Y":0.525,"v":25},{"x":0.076,"X":0.08,"y":0.52,"Y":0.525,"v":25},{"x":0.0552,"X":0.0616,"y":0.515,"Y":0.52,"v":25},{"x":0.0624,"X":0.0728,"y":0.515,"Y":0.52,"v":25},{"x":0.0736,"X":0.08,"y":0.515,"Y":0.52,"v":25},{"x":0.0544,"X":0.0608,"y":0.51,"Y":0.515,"v":25},{"x":0.0624,"X":0.0688,"y":0.51,"Y":0.515,"v":25},{"x":0.0696,"X":0.072,"y":0.51,"Y":0.515,"v":25},{"x":0.0728,"X":0.0784,"y":0.51,"Y":0.515,"v":25},{"x":0.0536,"X":0.0664,"y":0.505,"Y":0.51,"v":25},{"x":0.0672,"X":0.0728,"y":0.505,"Y":0.51,"v":25},{"x":0.0744,"X":0.08,"y":0.505,"Y":0.51,"v":25},{"x":0.0536,"X":0.0592,"y":0.5,"Y":0.505,"v":25},{"x":0.0632,"X":0.0656,"y":0.5,"Y":0.505,"v":25},{"x":0.0672,"X":0.0704,"y":0.5,"Y":0.505,"v":25},{"x":0.0528,"X":0.0552,"y":0.495,"Y":0.5,"v":25},{"x":0.052,"X":0.0544,"y":0.485,"Y":0.495,"v":25},{"x":0.052,"X":0.0536,"y":0.475,"Y":0.485,"v":25},{"x":0.0512,"X":0.0528,"y":0.46,"Y":0.475,"v":25},{"x":0.0504,"X":0.052,"y":0.43,"Y":0.44,"v":25},{"x":0.0496,"X":0.0512,"y":0.425,"Y":0.43,"v":25},
{"x":0.064,"X":0.0664,"y":0.515,"Y":0.52,"v":45},{"x":0.0632,"X":0.064,"y":0.52,"Y":0.525,"v":35},{"x":0.0664,"X":0.0672,"y":0.52,"Y":0.525,"v":45},{"x":0.0608,"X":0.0624,"y":0.51,"Y":0.515,"v":45},{"x":0.0624,"X":0.064,"y":0.51,"Y":0.515,"v":45},{"x":0.056,"X":0.0576,"y":0.505,"Y":0.51,"v":35},{"x":0.052,"X":0.0528,"y":0.46,"Y":0.465,"v":45}
],
"cadold":[{"x":0.02106,"y":0.5426,"t":"Old CAD"}],
"cadnew":[{"x":0.031,"y":0.5426,"t":"New CAD"},{"x":0.0765,"y":0.6235,"t":"θₓ  [rad]"}],
"shaft":[{"x":0.02554,"X":0.0345,"y":0.1805,"Y":0.093}],
"head":[{"x":0.03486,"y":0.0913}]
},
"hconcat":[
{"width":490,"height":586,"layer":[
{"data":{"name":"old"},"mark":{"type":"rect","strokeWidth":0.5},"encoding":{
"x":{"field":"x","type":"quantitative","scale":{"domain":[0,0.08]},"axis":{"tickCount":500,"values":[0,0.002,0.004,0.006,0.008,0.01,0.012,0.014,0.016,0.018,0.02,0.022,0.024,0.026,0.028,0.03,0.032,0.034,0.036,0.038,0.04,0.042,0.044,0.046,0.048,0.05,0.052,0.054,0.056,0.058,0.06,0.062,0.064,0.066,0.068,0.07,0.072,0.074,0.076,0.078,0.08],"tickSize":{"condition":{"test":"abs(datum.value*100-round(datum.value*100))<0.001","value":-22},"value":-11},"labelExpr":"abs(datum.value*100-round(datum.value*100))>0.001?'':datum.value==0?'0':datum.value>0.079?'0.0':format(datum.value,'.2f')","labelAlign":{"condition":{"test":"datum.value>0.079","value":"right"},"value":"center"},"labelOffset":{"condition":{"test":"datum.value>0.079","value":11},"value":0},"labelFontSize":24,"labelPadding":25,"labelBound":false,"labelFlush":false,"labelOverlap":false,"title":"θₜᵣᵤₑ  [rad]","titleFontSize":28,"titleAnchor":"end","titlePadding":-14}},
"x2":{"field":"X"},
"y":{"field":"y","type":"quantitative","scale":{"domain":[0,0.6]},"axis":{"tickCount":500,"values":[0,0.02,0.04,0.06,0.08,0.1,0.12,0.14,0.16,0.18,0.2,0.22,0.24,0.26,0.28,0.3,0.32,0.34,0.36,0.38,0.4,0.42,0.44,0.46,0.48,0.5,0.52,0.54,0.56,0.58,0.6],"tickSize":{"condition":{"test":"abs(datum.value*10-round(datum.value*10))<0.001","value":-34},"value":-17},"labelExpr":"abs(datum.value*10-round(datum.value*10))>0.001?'':datum.value==0?'0':format(datum.value,'.1f')","labelFontSize":27,"labelPadding":40,"labelOverlap":false,"labelFlush":false,"title":"Energy Deposited in LumiCal [GeV]","titleFontSize":21,"titlePadding":16}},
"y2":{"field":"Y"},
"color":{"field":"v","type":"quantitative","legend":null,"scale":{"type":"threshold","domain":[4,10,20,30,40,50,60,70,80,90,100,110,120,130,140,150,160,170,180,190],"range":["#2a3ba6","#1b44bf","#1a48c4","#0d60da","#0f68dc","#1478cc","#0f8ad0","#0a9dc8","#06a8c4","#1eaab0","#2fb8a0","#55b090","#72b880","#98b878","#b5b86e","#d8b850","#e4b840","#f2b935","#fdd020","#f5e515","#ffff00"]}},
"stroke":{"field":"v","type":"quantitative","legend":null,"scale":{"type":"threshold","domain":[4,10,20,30,40,50,60,70,80,90,100,110,120,130,140,150,160,170,180,190],"range":["#2a3ba6","#1b44bf","#1a48c4","#0d60da","#0f68dc","#1478cc","#0f8ad0","#0a9dc8","#06a8c4","#1eaab0","#2fb8a0","#55b090","#72b880","#98b878","#b5b86e","#d8b850","#e4b840","#f2b935","#fdd020","#f5e515","#ffff00"]}}}},
{"data":{"name":"cadold"},"mark":{"type":"text","fontSize":35,"fontWeight":"bold","color":"#000000","baseline":"middle"},"encoding":{"x":{"field":"x","type":"quantitative"},"y":{"field":"y","type":"quantitative"},"text":{"field":"t"}}}
]},
{"width":497,"height":585,"layer":[
{"data":{"name":"new"},"mark":{"type":"rect","strokeWidth":0.5},"encoding":{
"x":{"field":"x","type":"quantitative","scale":{"domain":[0,0.08]},"axis":{"tickCount":500,"values":[0,0.002,0.004,0.006,0.008,0.01,0.012,0.014,0.016,0.018,0.02,0.022,0.024,0.026,0.028,0.03,0.032,0.034,0.036,0.038,0.04,0.042,0.044,0.046,0.048,0.05,0.052,0.054,0.056,0.058,0.06,0.062,0.064,0.066,0.068,0.07,0.072,0.074,0.076,0.078,0.08],"tickSize":{"condition":{"test":"abs(datum.value*100-round(datum.value*100))<0.001","value":-22},"value":-11},"labelExpr":"abs(datum.value*100-round(datum.value*100))>0.001?'':datum.value==0?'0':format(datum.value,'.2f')","labelFontSize":24,"labelPadding":25,"labelBound":false,"labelFlush":false,"labelOverlap":false,"title":"θₜᵣᵤₑ  [rad]","titleFontSize":28,"titleAnchor":"end","titlePadding":-14}},
"x2":{"field":"X"},
"y":{"field":"y","type":"quantitative","scale":{"domain":[0,0.6]},"axis":{"tickCount":500,"values":[0,0.02,0.04,0.06,0.08,0.1,0.12,0.14,0.16,0.18,0.2,0.22,0.24,0.26,0.28,0.3,0.32,0.34,0.36,0.38,0.4,0.42,0.44,0.46,0.48,0.5,0.52,0.54,0.56,0.58,0.6],"tickSize":{"condition":{"test":"abs(datum.value*10-round(datum.value*10))<0.001","value":-30},"value":-15},"labels":false,"title":null}},
"y2":{"field":"Y"},
"color":{"field":"v","type":"quantitative","legend":null,"scale":{"type":"threshold","domain":[4,10,20,30,40,50,60,70,80,90,100,110,120,130,140,150,160,170,180,190],"range":["#2a3ba6","#1b44bf","#1a48c4","#0d60da","#0f68dc","#1478cc","#0f8ad0","#0a9dc8","#06a8c4","#1eaab0","#2fb8a0","#55b090","#72b880","#98b878","#b5b86e","#d8b850","#e4b840","#f2b935","#fdd020","#f5e515","#ffff00"]}},
"stroke":{"field":"v","type":"quantitative","legend":null,"scale":{"type":"threshold","domain":[4,10,20,30,40,50,60,70,80,90,100,110,120,130,140,150,160,170,180,190],"range":["#2a3ba6","#1b44bf","#1a48c4","#0d60da","#0f68dc","#1478cc","#0f8ad0","#0a9dc8","#06a8c4","#1eaab0","#2fb8a0","#55b090","#72b880","#98b878","#b5b86e","#d8b850","#e4b840","#f2b935","#fdd020","#f5e515","#ffff00"]}}}},
{"data":{"name":"cadnew"},"transform":[{"filter":"datum.y<0.6"}],"mark":{"type":"text","fontSize":35,"fontWeight":"bold","color":"#000000","baseline":"middle"},"encoding":{"x":{"field":"x","type":"quantitative"},"y":{"field":"y","type":"quantitative"},"text":{"field":"t"}}},
{"data":{"name":"cadnew"},"transform":[{"filter":"datum.y>0.6"}],"mark":{"type":"text","fontSize":25,"color":"#222222","baseline":"middle"},"encoding":{"x":{"field":"x","type":"quantitative"},"y":{"field":"y","type":"quantitative"},"text":{"field":"t"}}},
{"data":{"name":"shaft"},"mark":{"type":"rule","strokeWidth":8,"color":"#00a9ff"},"encoding":{"x":{"field":"x","type":"quantitative"},"x2":{"field":"X"},"y":{"field":"y","type":"quantitative"},"y2":{"field":"Y"}}},
{"data":{"name":"head"},"mark":{"type":"point","filled":true,"opacity":1,"color":"#00a9ff","strokeWidth":0,"size":1600,"shape":"M0.585,0.815L-0.95,-0.05L0.4,-0.8Z"},"encoding":{"x":{"field":"x","type":"quantitative"},"y":{"field":"y","type":"quantitative"}}}
]},
{"width":44,"height":585,"data":{"name":"bands"},"mark":{"type":"rect","strokeWidth":0},"encoding":{
"x":{"field":"x","type":"quantitative","axis":null,"scale":{"domain":[0,1]}},"x2":{"field":"X"},
"y":{"field":"y","type":"quantitative","scale":{"domain":[0,200]},"axis":{"orient":"right","values":[0,20,40,60,80,100,120,140,160,180,200],"format":"d","tickCount":500,"tickSize":-30,"labelFontSize":25,"labelPadding":35,"labelOverlap":false,"labelFlush":false,"title":null}},
"y2":{"field":"Y"},
"color":{"field":"v","type":"quantitative","legend":null,"scale":{"type":"threshold","domain":[4,10,20,30,40,50,60,70,80,90,100,110,120,130,140,150,160,170,180,190],"range":["#2a3ba6","#1b44bf","#1a48c4","#0d60da","#0f68dc","#1478cc","#0f8ad0","#0a9dc8","#06a8c4","#1eaab0","#2fb8a0","#55b090","#72b880","#98b878","#b5b86e","#d8b850","#e4b840","#f2b935","#fdd020","#f5e515","#ffff00"]}}}}
]}
